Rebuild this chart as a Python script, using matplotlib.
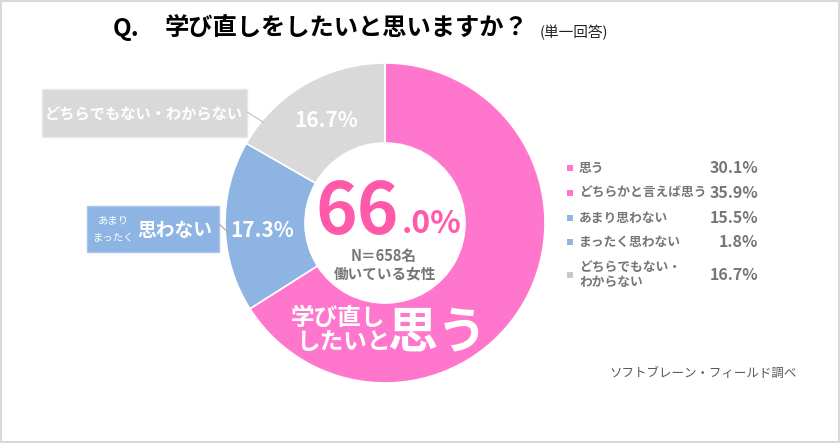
import matplotlib
matplotlib.use("Agg")
import matplotlib.pyplot as plt
from matplotlib.patches import Rectangle

plt.rcParams['font.family'] = ['Noto Sans CJK JP', 'DejaVu Sans']

# ---- data ----
categories = ['思う', 'どちらかと言えば思う', 'あまり思わない', 'まったく思わない', 'どちらでもない・\nわからない']
values = [30.1, 35.9, 15.5, 1.8, 16.7]
legend_colors = ['#FF77CC', '#FF77CC', '#8DB4E2', '#95B3D7', '#C8C8C8']
group_names = ['思う', '思わない', 'どちらでもない・わからない']
group_values = [round(values[0] + values[1], 1), round(values[2] + values[3], 1), values[4]]
group_colors = ['#FF77CC', '#8DB4E2', '#D9D9D9']

W, H = 840, 443
def Y(y):
    return H - y

fig = plt.figure(figsize=(8.4, 4.43), dpi=100)
ax = fig.add_axes([0, 0, 1, 1])

cx, cy, R = 385, 223, 160
ax.pie(group_values, colors=group_colors, center=(cx, Y(cy)), radius=R,
       startangle=90, counterclock=False,
       wedgeprops=dict(width=R * 0.5, edgecolor='white', linewidth=1.2))
ax.set_xlim(0, W)
ax.set_ylim(0, H)
ax.set_aspect('auto')
ax.axis('off')

# frame
ax.add_patch(Rectangle((1, 1), W - 2, H - 2, fill=False, edgecolor='#D9D9D9', lw=1.5))

# title
ax.text(113, Y(29), 'Q.', fontsize=17.5, fontweight='bold', color='black', va='center', ha='left')
ax.text(165, Y(29), '学び直しをしたいと思いますか？', fontsize=17.5, fontweight='bold',
        color='black', va='center', ha='left')
ax.text(540, Y(33), '(単一回答)', fontsize=10.5, color='#222222', va='center', ha='left')

# wedge labels
ax.text(326, Y(120), f'{group_values[2]:.1f}%', fontsize=15, fontweight='bold', color='white',
        va='center', ha='center')
ax.text(262, Y(230), f'{group_values[1]:.1f}%', fontsize=15, fontweight='bold', color='white',
        va='center', ha='center')

# gray callout box
ax.add_patch(Rectangle((42, Y(137)), 205, 48, facecolor='#D9D9D9', edgecolor='#E8E8E8', lw=1))
ax.text(144, Y(114), group_names[2], fontsize=11, fontweight='bold', color='white',
        va='center', ha='center')
ax.plot([247, 263], [Y(112), Y(122)], color='#BFBFBF', lw=0.8)

# blue callout box
ax.add_patch(Rectangle((87, Y(252)), 132, 46, facecolor='#8DB4E2', edgecolor='#A9C6EA', lw=1))
ax.text(113, Y(220), 'あまり', fontsize=7.5, color='white', va='center', ha='center')
ax.text(113, Y(238), 'まったく', fontsize=7.5, color='white', va='center', ha='center')
ax.text(175, Y(230), group_names[1], fontsize=13.5, fontweight='bold', color='white',
        va='center', ha='center')
ax.plot([219, 228], [Y(224), Y(232)], color='#A6A6A6', lw=0.8)

# center text
whole, frac = f'{group_values[0]:.1f}'.split('.')
ax.text(399, Y(234), whole, fontsize=51, fontweight='bold', color='#FF5AAA',
        va='baseline', ha='right')
ax.text(402, Y(233), f'.{frac}%', fontsize=23, fontweight='bold', color='#FF5AAA',
        va='baseline', ha='left')
ax.text(384, Y(256), 'N＝658名', fontsize=10.5, fontweight='bold', color='#767676',
        va='center', ha='center')
ax.text(385, Y(273), '働いている女性', fontsize=10.5, fontweight='bold', color='#767676',
        va='center', ha='center')

# pink label
ax.text(338, Y(318), '学び直し', fontsize=17, fontweight='bold', color='white', va='center', ha='center')
ax.text(343, Y(342), 'したいと', fontsize=17, fontweight='bold', color='white', va='center', ha='center')
ax.text(437, Y(333), group_names[0], fontsize=36, fontweight='bold', color='white',
        va='center', ha='center')

# legend
row_y = [168, 193, 218, 242, 275]
for name, val, col, yy in zip(categories, values, legend_colors, row_y):
    ax.add_patch(Rectangle((567, Y(yy) - 3), 6, 6, facecolor=col, edgecolor='none'))
    ax.text(579, Y(yy), name, fontsize=9.2, fontweight='bold', color='#767676',
            va='center', ha='left', linespacing=1.1)
    ax.text(758, Y(yy), f'{val:.1f}%', fontsize=11.5, fontweight='bold', color='#767676',
            va='center', ha='right')

# source
ax.text(797, Y(373), 'ソフトブレーン・フィールド調べ', fontsize=9, color='#595959',
        va='center', ha='right')

fig.savefig('out.png', dpi=100)
